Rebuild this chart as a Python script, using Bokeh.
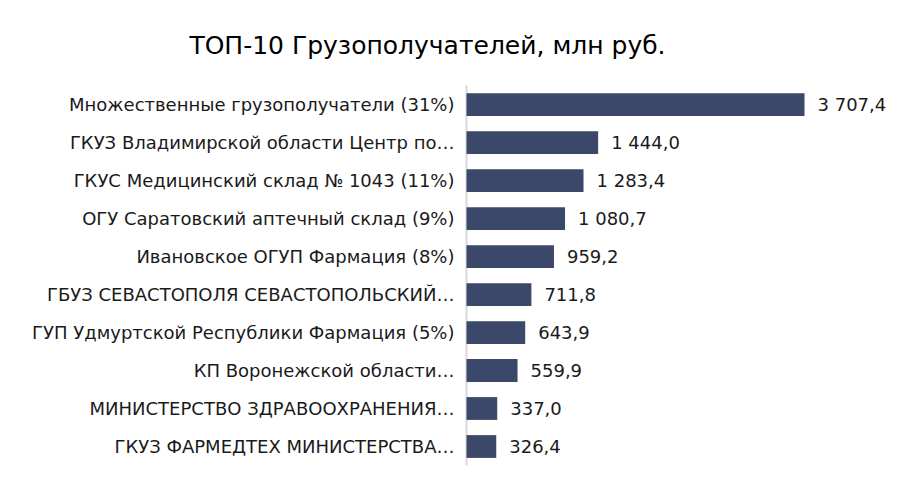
from bokeh.plotting import figure
from bokeh.models import ColumnDataSource, Range1d
from bokeh.embed import file_html
from bokeh.resources import INLINE
from bokeh.core.properties import value

categories = [
    "Множественные грузополучатели (31%)",
    "ГКУЗ Владимирской области Центр по…",
    "ГКУС Медицинский склад № 1043 (11%)",
    "ОГУ Саратовский аптечный склад (9%)",
    "Ивановское ОГУП Фармация (8%)",
    "ГБУЗ СЕВАСТОПОЛЯ СЕВАСТОПОЛЬСКИЙ…",
    "ГУП Удмуртской Республики Фармация (5%)",
    "КП Воронежской области…",
    "МИНИСТЕРСТВО ЗДРАВООХРАНЕНИЯ…",
    "ГКУЗ ФАРМЕДТЕХ МИНИСТЕРСТВА…",
]
values = [3707.4, 1444.0, 1283.4, 1080.7, 959.2, 711.8, 643.9, 559.9, 337.0, 326.4]
value_labels = ["3 707,4", "1 444,0", "1 283,4", "1 080,7", "959,2",
                "711,8", "643,9", "559,9", "337,0", "326,4"]
title_text = "ТОП-10 Грузополучателей, млн руб."

FONT = "DejaVu Sans"
n = len(categories)
ypos = [n - 0.5 - i for i in range(n)]   # top row first

src = ColumnDataSource(dict(cat=categories, val=values, lab=value_labels,
                            y=ypos, zero=[0] * n))

# frame covers the whole canvas; x=0 is the bar baseline
p = figure(width=904, height=480, output_backend="svg", toolbar_location=None,
           x_range=Range1d(-5111, 4804), y_range=Range1d(-0.395, 12.24),
           min_border=0)
p.xaxis.visible = False
p.yaxis.visible = False
p.xgrid.visible = False
p.ygrid.visible = False
p.outline_line_color = None

# baseline axis line
p.segment(x0=[0], y0=[0], x1=[0], y1=[n], line_color="#d9d9d9", line_width=2)

p.hbar(y="y", right="val", left=0, height=0.6, source=src,
       fill_color="#3c4869", line_color=None)

# category labels
p.text(x="zero", y="y", text="cat", source=src, x_offset=-12,
       text_align="right", text_baseline="middle", text_font=value(FONT),
       text_font_size="18px", text_color="#1a1a1a")

# value labels
p.text(x="val", y="y", text="lab", source=src, x_offset=13,
       text_align="left", text_baseline="middle", text_font=value(FONT),
       text_font_size="18px", text_color="#1a1a1a")

# title
p.text(x=[-428], y=[11.05], text=[title_text], text_align="center",
       text_baseline="middle", text_font=value(FONT),
       text_font_size="25px", text_color="#000000")

open("out.html", "w").write(file_html(p, INLINE))
